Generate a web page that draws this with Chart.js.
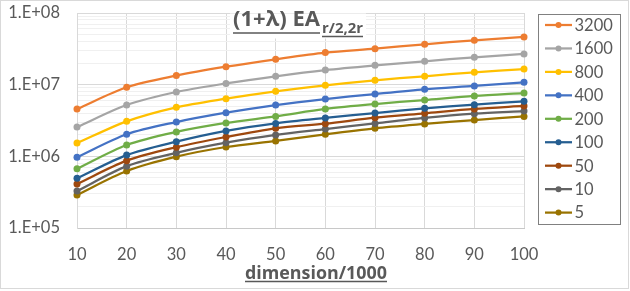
<!DOCTYPE html>
<html>
<head>
<meta charset="utf-8">
<script src="https://cdn.jsdelivr.net/npm/chart.js@4"></script>
<style>
  html, body { margin: 0; padding: 0; background: #fff; }
  #wrap { width: 630px; height: 291px; }
</style>
</head>
<body>
<div id="wrap"><canvas id="eaChart"></canvas></div>
<script>
// dimension / 1000
const dims = [10, 20, 30, 40, 50, 60, 70, 80, 90, 100];

// lambda values (legend order)
const lambdas = ['3200', '1600', '800', '400', '200', '100', '50', '10', '5'];

// series
const s3200 = [4.57e6, 9.2e6, 1.34e7, 1.78e7, 2.26e7, 2.8e7, 3.18e7, 3.66e7, 4.16e7, 4.63e7];
const s1600 = [2.56e6, 5.2e6, 7.9e6, 1.04e7, 1.31e7, 1.6e7, 1.86e7, 2.12e7, 2.41e7, 2.68e7];
const s800  = [1.53e6, 3.08e6, 4.83e6, 6.38e6, 8.07e6, 9.8e6, 1.15e7, 1.31e7, 1.49e7, 1.65e7];
const s400  = [9.7e5, 2.03e6, 3.01e6, 4.06e6, 5.2e6, 6.3e6, 7.4e6, 8.6e6, 9.6e6, 1.08e7];
const s200  = [6.7e5, 1.44e6, 2.19e6, 2.92e6, 3.61e6, 4.58e6, 5.37e6, 6.1e6, 6.95e6, 7.65e6];
const s100  = [4.93e5, 1.04e6, 1.6e6, 2.26e6, 2.88e6, 3.43e6, 4.02e6, 4.67e6, 5.26e6, 5.86e6];
const s50   = [4.11e5, 8.7e5, 1.34e6, 1.86e6, 2.46e6, 2.86e6, 3.46e6, 3.98e6, 4.58e6, 5.04e6];
const s10   = [3.28e5, 7.3e5, 1.12e6, 1.55e6, 1.99e6, 2.4e6, 2.88e6, 3.43e6, 3.93e6, 4.29e6];
const s5    = [2.89e5, 6.24e5, 9.9e5, 1.35e6, 1.64e6, 2.03e6, 2.46e6, 2.83e6, 3.21e6, 3.61e6];

// y axis ticks
const decades = [1e5, 1e6, 1e7, 1e8];
const tickLabels = ['1.E+05', '1.E+06', '1.E+07', '1.E+08'];
const minorSteps = [2, 3, 4, 5, 6, 7, 8, 9];

const seriesValues = [s3200, s1600, s800, s400, s200, s100, s50, s10, s5];
const colors = ['#ED7D31', '#A5A5A5', '#FFC000', '#4472C4', '#70AD47',
                '#255E91', '#9E480E', '#636363', '#997300'];

const textColor = '#595959';
const fontFamily = 'Lato, "Open Sans", sans-serif';
const boldFamily = '"Open Sans", Lato, sans-serif';

// pick a font size so the text takes the given width
function fitFont(ctx, text, weight, family, targetW) {
    ctx.font = weight + ' 20px ' + family;
    const size = 20 * targetW / ctx.measureText(text).width;
    ctx.font = weight + ' ' + size.toFixed(2) + 'px ' + family;
    return size;
}

// Title, legend, axis title and frame (Excel style)
const decorPlugin = {
    id: 'decor',
    afterDraw(chart) {
        const ctx = chart.ctx;
        ctx.save();

        // outer frame
        ctx.strokeStyle = '#d9d9d9';
        ctx.lineWidth = 1;
        ctx.strokeRect(0.5, 0.5, 628, 288);

        // chart title with white backing
        ctx.fillStyle = '#fff';
        ctx.fillRect(230, 13.5, 136, 25);
        ctx.fillStyle = textColor;
        ctx.textBaseline = 'alphabetic';
        ctx.textAlign = 'left';
        const tx = 233;
        const mainText = '(1+λ) EA';
        fitFont(ctx, mainText, 'bold', boldFamily, 87);
        ctx.fillText(mainText, tx, 26);
        const subText = 'r/2,2r';
        fitFont(ctx, subText, 'bold', boldFamily, 41);
        ctx.fillText(subText, tx + 89, 33);
        ctx.strokeStyle = textColor;
        ctx.lineWidth = 1.5;
        ctx.beginPath();
        ctx.moveTo(tx, 33);
        ctx.lineTo(tx + 87, 33);
        ctx.moveTo(tx + 89, 36.5);
        ctx.lineTo(tx + 130, 36.5);
        ctx.stroke();

        // x axis title
        const xt = 'dimension/1000';
        const xl = 245, xw = 142;
        fitFont(ctx, xt, 'bold', boldFamily, xw);
        ctx.fillText(xt, xl, 279);
        ctx.lineWidth = 1.3;
        ctx.beginPath();
        ctx.moveTo(xl, 281.5);
        ctx.lineTo(xl + xw, 281.5);
        ctx.stroke();

        // legend
        ctx.strokeStyle = '#808080';
        ctx.lineWidth = 1;
        ctx.strokeRect(538.5, 14.5, 82, 210);
        ctx.font = '16.5px ' + fontFamily;
        ctx.textBaseline = 'middle';
        chart.data.datasets.forEach((ds, i) => {
            const y = 25 + i * 23.45;
            ctx.strokeStyle = ds.borderColor;
            ctx.lineWidth = 2.25;
            ctx.beginPath();
            ctx.moveTo(545, y);
            ctx.lineTo(572, y);
            ctx.stroke();
            ctx.fillStyle = ds.borderColor;
            ctx.beginPath();
            ctx.arc(558.5, y, 3, 0, Math.PI * 2);
            ctx.fill();
            ctx.fillStyle = textColor;
            ctx.fillText(ds.label, 574.5, y + 0.5);
        });

        ctx.restore();
    }
};

const ctx = document.getElementById('eaChart').getContext('2d');

new Chart(ctx, {
    type: 'line',
    data: {
        labels: dims,
        datasets: lambdas.map((l, i) => ({
            label: l,
            data: seriesValues[i],
            borderColor: colors[i],
            backgroundColor: colors[i],
            borderWidth: 2.25,
            pointRadius: 3.5,
            pointBorderWidth: 0,
            tension: 0.3,
            fill: false
        }))
    },
    options: {
        responsive: true,
        maintainAspectRatio: false,
        animation: false,
        layout: { padding: { top: 13, right: 106, left: 0, bottom: 0 } },
        plugins: {
            legend: { display: false },
            title: { display: false },
            tooltip: { enabled: false }
        },
        scales: {
            x: {
                type: 'category',
                offset: false,
                grid: { color: '#d9d9d9', drawTicks: false },
                border: { color: '#c8c8c8' },
                ticks: {
                    color: textColor,
                    font: { family: fontFamily, size: 16.5 },
                    padding: 17,
                    autoSkip: false,
                    maxRotation: 0
                },
                afterFit(scale) { scale.height = 63; }
            },
            y: {
                type: 'logarithmic',
                min: 1e5,
                max: 1e8,
                afterBuildTicks(scale) {
                    const t = [];
                    decades.forEach((d, k) => {
                        t.push({ value: d });
                        if (k < decades.length - 1) {
                            minorSteps.forEach(m => t.push({ value: m * d }));
                        }
                    });
                    scale.ticks = t;
                },
                grid: {
                    drawTicks: false,
                    color: c => (c.tick && decades.includes(c.tick.value)) ? '#d9d9d9' : '#f0f0f0'
                },
                border: { color: '#d9d9d9' },
                ticks: {
                    color: textColor,
                    font: { family: fontFamily, size: 16.5 },
                    padding: 17,
                    autoSkip: false,
                    callback: v => {
                        const k = decades.indexOf(v);
                        return k >= 0 ? tickLabels[k] : '';
                    }
                },
                afterFit(scale) {
                    scale.width = 77;
                    scale.paddingTop = 0;
                    scale.paddingBottom = 0;
                }
            }
        }
    },
    plugins: [decorPlugin]
});
</script>
</body>
</html>
